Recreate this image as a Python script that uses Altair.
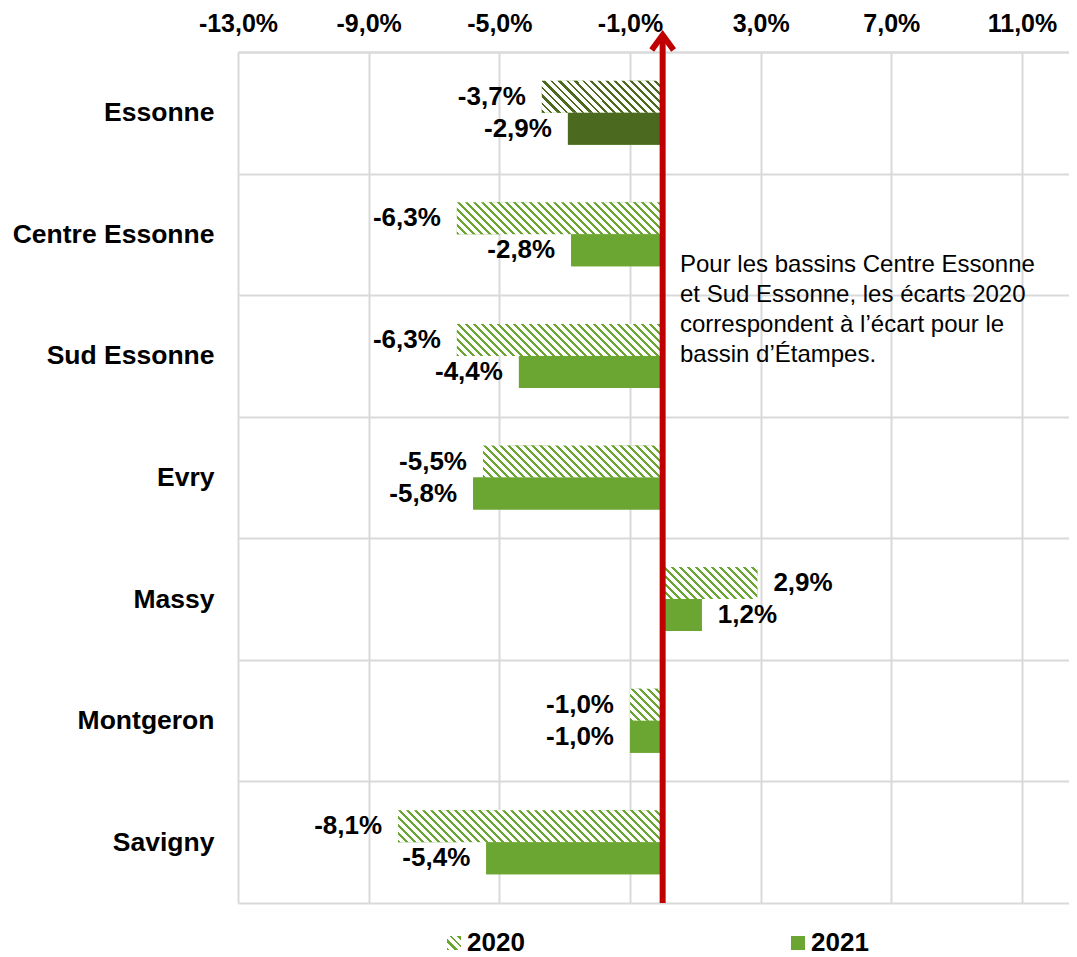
import json
import altair as alt

# ---------------- data ----------------
categories = ["Essonne", "Centre Essonne", "Sud Essonne", "Evry", "Massy", "Montgeron", "Savigny"]
values_2020 = [-3.7, -6.3, -6.3, -5.5, 2.9, -1.0, -8.1]
values_2021 = [-2.9, -2.8, -4.4, -5.8, 1.2, -1.0, -5.4]
years = ["2020", "2021"]
x_ticks = [-13, -9, -5, -1, 3, 7, 11]
highlight = "Essonne"
note_lines = [
    "Pour les bassins Centre Essonne",
    "et Sud Essonne, les écarts 2020",
    "correspondent à l’écart pour le",
    "bassin d’Étampes.",
]

# ---------------- style ----------------
GREEN = "#6BA632"
DARK_GREEN = "#4B6A1F"
RED = "#C00000"
GRID = "#D9D9D9"
FONT = "Liberation Sans"

WIDTH = 831
HEIGHT = 851
X_MIN, X_MAX = -13, 12.44
PX_PER_UNIT = WIDTH / (X_MAX - X_MIN)
BAR_H = 32
STEP = HEIGHT / len(categories)
OFFSET_PAD = (STEP / BAR_H - 2) / 2


def hatch(w, h, color, period=8.0, stripe=3.0):
    """Diagonal hatch as a linear gradient in bounding-box units."""
    span = w + h
    stops = [{"offset": 0, "color": color}]
    a = 0.0
    while a < span:
        ob = round(min((a + stripe) / span, 1), 5)
        on = round(min((a + period) / span, 1), 5)
        stops += [
            {"offset": ob, "color": color},
            {"offset": ob, "color": "#FFFFFF"},
            {"offset": on, "color": "#FFFFFF"},
            {"offset": on, "color": color},
        ]
        a += period
    k = span / (w * w + h * h)
    return {"gradient": "linear", "x1": 0, "y1": 1,
            "x2": round(w * k, 5), "y2": round(1 - h * k, 5), "stops": stops}


rows = []
for cat, v20, v21 in zip(categories, values_2020, values_2021):
    col = DARK_GREEN if cat == highlight else GREEN
    for year, v in (("2020", v20), ("2021", v21)):
        fill = hatch(abs(v) * PX_PER_UNIT, BAR_H, col) if year == "2020" else col
        rows.append({"Category": cat, "Year": year, "value": v, "fill": fill})

data = alt.Data(values=rows)
legend_expr = json.dumps(hatch(14, 14, GREEN))
pct_expr = "(datum.value < 0 ? '-' : '') + replace(format(abs(datum.value), '.1f'), '.', ',') + '%'"

y_enc = alt.Y(
    "Category:N", sort=categories,
    scale=alt.Scale(paddingInner=0, paddingOuter=0),
    axis=alt.Axis(title=None, domain=False, ticks=False, labelFont=FONT, labelFontSize=26.5,
                  labelFontWeight="bold", labelColor="black", labelPadding=24, labelLimit=400,
                  grid=True, gridColor=GRID, gridWidth=2, tickBand="extent"),
)
yoff_enc = alt.YOffset("Year:N", sort=years,
                       scale=alt.Scale(paddingInner=0, paddingOuter=OFFSET_PAD))
x_enc = alt.X(
    "value:Q", stack=None,
    scale=alt.Scale(domain=[X_MIN, X_MAX], nice=False, zero=False),
    axis=alt.Axis(orient="top", title=None, values=x_ticks, labelExpr=pct_expr,
                  labelFont=FONT, labelFontSize=25, labelFontWeight="bold", labelColor="black",
                  labelPadding=21, labelBaseline="alphabetic", labelFlush=False, labelOverlap=False,
                  ticks=False, domain=True, domainColor=GRID, domainWidth=2,
                  grid=True, gridColor=GRID, gridWidth=2),
)

base = alt.Chart(data).encode(y=y_enc, yOffset=yoff_enc)

legend_bars = base.mark_bar().encode(
    x=x_enc,
    fill=alt.Fill("Year:N", scale=alt.Scale(domain=years, range=[{"expr": legend_expr}, GREEN]),
                  legend=alt.Legend(title=None, orient="none", legendX=203, legendY=878,
                                    direction="horizontal", symbolType="square", symbolSize=196,
                                    symbolStrokeWidth=0, labelFont=FONT, labelFontSize=26,
                                    labelFontWeight="bold", labelColor="black", labelOffset=0,
                                    columnPadding=260, padding=0)),
)

hatch_bars = base.mark_bar().encode(
    x=alt.X("value:Q", stack=None),
    fill=alt.Fill("fill:N", scale=None, legend=None),
)

text_common = dict(baseline="middle", fontSize=26, fontWeight="bold", font=FONT, color="black")
labels_neg = base.mark_text(align="right", dx=-16, **text_common).encode(
    x=alt.X("value:Q", stack=None), text="label:N"
).transform_calculate(label=pct_expr).transform_filter("datum.value < 0")
labels_pos = base.mark_text(align="left", dx=16, **text_common).encode(
    x=alt.X("value:Q", stack=None), text="label:N"
).transform_calculate(label=pct_expr).transform_filter("datum.value >= 0")

zero = alt.Data(values=[{"zero": 0}])
rule = alt.Chart(zero).mark_rule(color=RED, strokeWidth=6).encode(
    x="zero:Q", y=alt.value(HEIGHT), y2=alt.value(-17)
)
arrow = alt.Chart(zero).mark_point(
    shape="M-0.73,0.5L0,-0.5L0.73,0.5", filled=False, color=RED, strokeWidth=6,
    size=900, opacity=1, strokeJoin="miter", strokeCap="butt",
).encode(x="zero:Q", y=alt.value(-9.5))

note = alt.Chart(zero).mark_text(
    align="left", baseline="alphabetic", fontSize=24, font=FONT, color="black", lineHeight=30
).encode(x=alt.value(442), y=alt.value(220), text=alt.value(note_lines))

chart = alt.layer(legend_bars, hatch_bars, labels_neg, labels_pos, rule, arrow, note).properties(
    width=WIDTH, height=HEIGHT,
    autosize=alt.AutoSizeParams(type="none"),
    padding={"left": 230, "top": 44, "right": 0, "bottom": 56},
).configure_view(stroke=None)

chart.save("out.html", embed_options={"renderer": "svg", "actions": False})
